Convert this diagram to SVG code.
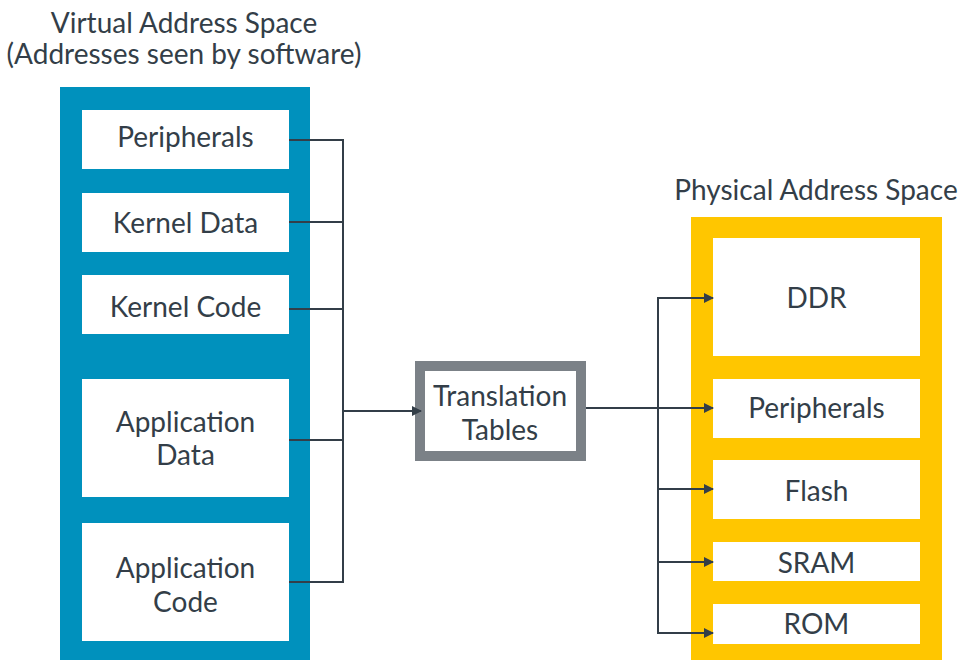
<svg xmlns="http://www.w3.org/2000/svg" width="961" height="660" viewBox="0 0 961 660">
<style>
text{font-family:Lato,"Liberation Sans",sans-serif;fill:#333e48;text-anchor:middle}
.t{font-size:28px}
.l{font-size:28px}
.box{fill:#fff}
.c{fill:none;stroke:#333e48;stroke-width:2}
</style>
<defs>
<marker id="ah" markerWidth="10" markerHeight="10" refX="9" refY="5" orient="auto" markerUnits="userSpaceOnUse">
<path d="M0,0 L10,5 L0,10 z" fill="#333e48"/>
</marker>
</defs>
<rect width="961" height="660" fill="#fff"/>
<g id="virtual">
<text class="t" x="184" y="33">Virtual Address Space</text>
<text class="t" x="184" y="64">(Addresses seen by software)</text>
<rect x="60" y="87" width="250" height="573" fill="#0091bd"/>
</g>
<g id="v-peripherals"><rect class="box" x="82" y="110" width="207" height="59"/><text class="l" x="185.5" y="147">Peripherals</text></g>
<g id="v-kdata"><rect class="box" x="82" y="193" width="207" height="59"/><text class="l" x="185.5" y="233">Kernel Data</text></g>
<g id="v-kcode"><rect class="box" x="82" y="275" width="207" height="59"/><text class="l" x="185.5" y="317">Kernel Code</text></g>
<g id="v-adata"><rect class="box" x="82" y="379" width="207" height="118"/><text class="l" x="185.5" y="432">Application</text><text class="l" x="185.5" y="465">Data</text></g>
<g id="v-acode"><rect class="box" x="82" y="523" width="207" height="118"/><text class="l" x="185.5" y="578">Application</text><text class="l" x="185.5" y="612">Code</text></g>
<g id="translation">
<rect x="420" y="366" width="161" height="90" fill="#fff" stroke="#7b8187" stroke-width="10"/>
<text class="l" x="500" y="406">Translation</text>
<text class="l" x="500" y="440">Tables</text>
</g>
<g id="physical">
<text class="t" x="816" y="200">Physical Address Space</text>
<rect x="691" y="217" width="251" height="443" fill="#ffc600"/>
</g>
<g id="p-ddr"><rect class="box" x="713" y="238" width="207" height="118"/><text class="l" x="816.5" y="308">DDR</text></g>
<g id="p-peripherals"><rect class="box" x="713" y="379" width="207" height="59"/><text class="l" x="816.5" y="418">Peripherals</text></g>
<g id="p-flash"><rect class="box" x="713" y="460" width="207" height="59"/><text class="l" x="816.5" y="501">Flash</text></g>
<g id="p-sram"><rect class="box" x="713" y="542" width="207" height="39"/><text class="l" x="816.5" y="573">SRAM</text></g>
<g id="p-rom"><rect class="box" x="713" y="604" width="207" height="40"/><text class="l" x="816.5" y="634">ROM</text></g>
<g id="connectors">
<path class="c" d="M289,140 H343 V582 H289 M289,222 H343 M289,309 H343 M289,440 H343"/>
<path class="c" d="M343,411 H421" marker-end="url(#ah)"/>
<path class="c" d="M586,408 H713" marker-end="url(#ah)"/>
<path class="c" d="M713,298 H658 V633 H713" />
<path class="c" d="M658,298 H713" marker-end="url(#ah)"/>
<path class="c" d="M658,489 H713" marker-end="url(#ah)"/>
<path class="c" d="M658,562 H713" marker-end="url(#ah)"/>
<path class="c" d="M658,633 H713" marker-end="url(#ah)"/>
</g>
</svg>
